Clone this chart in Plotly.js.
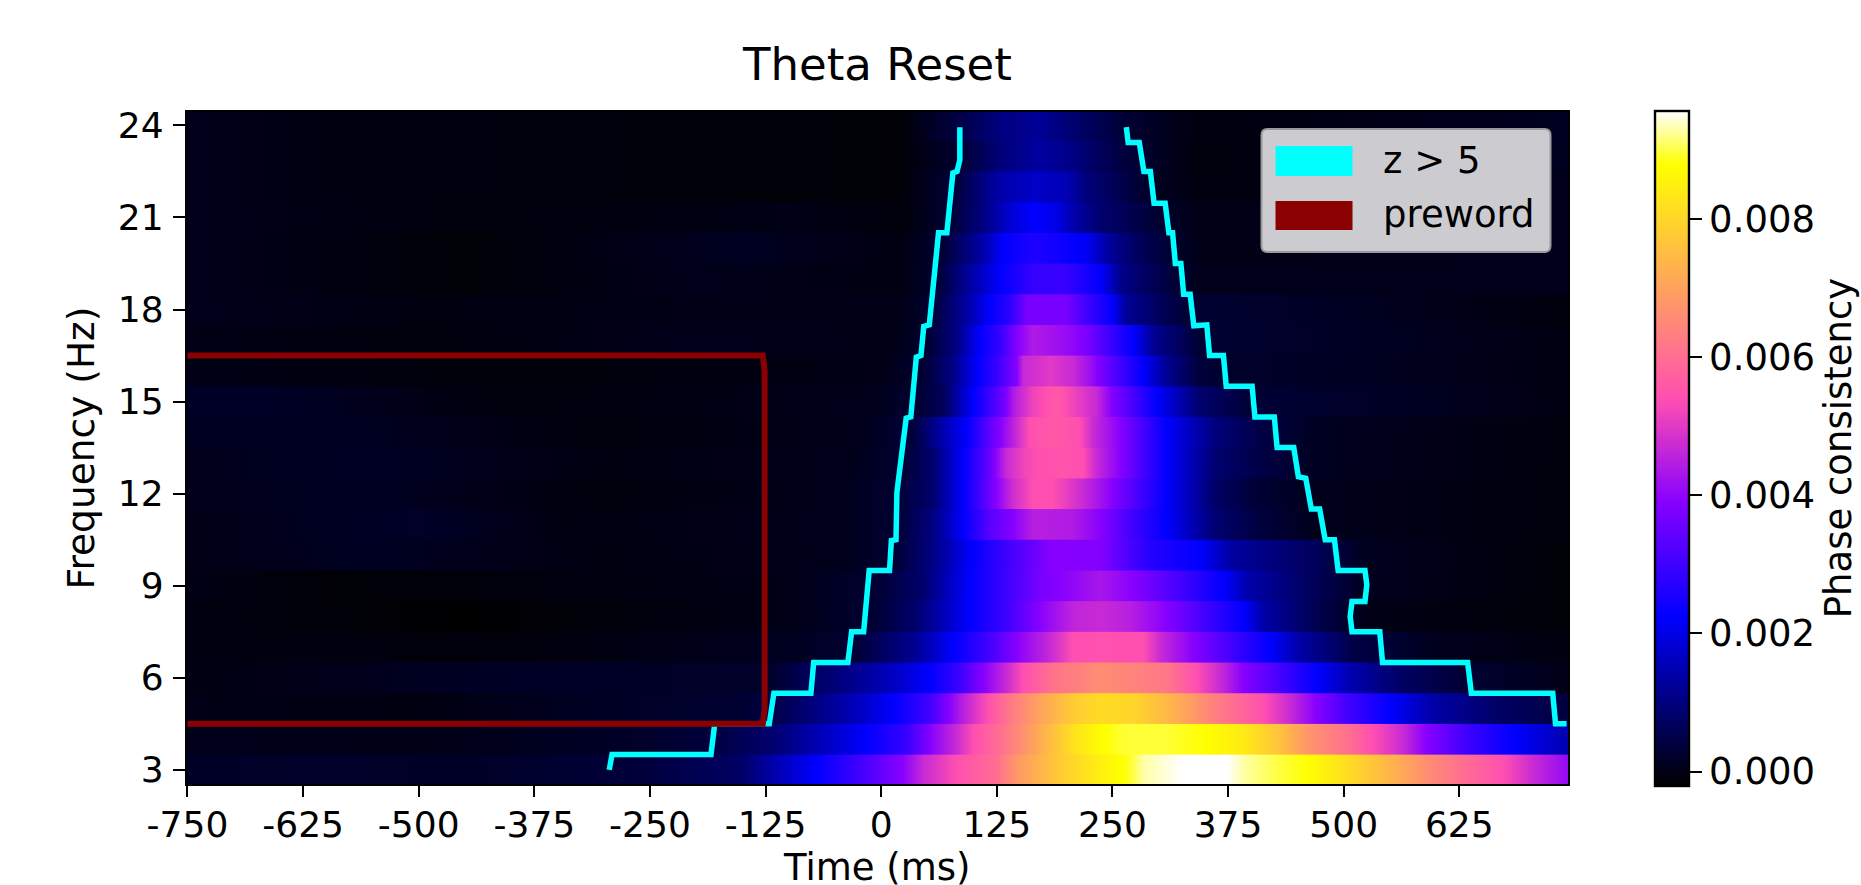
<!DOCTYPE html>
<html>
<head>
<meta charset="utf-8">
<script src="https://cdn.plot.ly/plotly-3.0.1.min.js"></script>
<style>html,body{margin:0;padding:0;background:#fff}</style>
</head>
<body>
<div id="chart" style="width:1861px;height:885px"></div>
<script>
// Each frequency row: time landmarks (ms) and phase consistency (in units of 0.001)
const t3=[-752,-600,-450,-261,-153,-117,-70,-30,23,45,81,124,146,189,236,268,283,326,373,391,427,459,506,553,596,643,672,705,746];
const v3=[0.15,0.2,0.15,0.35,0.75,1.42,2.24,2.9,3.9,4.7,5.4,6.0,6.8,7.7,8.5,8.9,9.3,9.58,9.58,9.3,9.0,8.8,8.1,7.3,6.5,5.8,5.4,4.7,4.0];
const t4=[-752,-500,-261,-189,-117,-63,-16,27,56,81,99,132,164,207,236,261,308,348,391,427,459,506,531,564,589,632,683,746];
const v4=[0.05,0.0,0.18,0.35,0.85,1.6,2.24,2.9,4.0,4.7,5.4,6.1,7.0,8.2,8.75,8.95,8.95,8.8,8.4,7.7,6.8,6.0,5.4,4.7,3.9,3.0,2.24,1.4];
const t5=[-752,-500,-153,-117,-70,-27,13,52,85,114,142,171,207,236,272,315,362,409,438,470,506,550,596,668,746];
const v5=[0.0,-0.05,0.27,0.46,1.03,1.6,2.24,3.0,4.4,5.4,6.3,7.0,7.8,8.1,8.0,7.3,6.3,5.5,4.8,3.9,3.0,2.24,1.4,0.75,0.35];
const t6=[-752,-500,-400,-121,-81,-30,16,52,85,110,135,153,186,236,308,340,366,391,434,470,506,560,632,746];
const v6=[-0.05,0.1,0.15,0.18,0.65,1.13,1.7,2.24,3.0,3.9,4.7,5.4,6.1,6.6,6.2,5.4,4.7,3.9,3.0,2.24,1.5,0.75,0.27,0.0];
const t7=[-752,-400,-100,-30,38,78,114,146,182,207,236,283,301,337,380,420,452,510,596,746];
const v7=[-0.05,-0.1,0.1,0.27,1.23,2.24,3.0,3.9,4.7,5.4,5.45,5.4,4.7,3.9,3.0,2.24,1.4,0.46,0.08,-0.07];
const t8=[-752,-450,-100,-9,38,95,135,171,207,236,268,308,351,391,413,470,524,746];
const v8=[-0.05,-0.2,0.0,0.27,0.85,2.24,3.0,3.9,4.6,4.7,4.5,3.9,3.0,2.24,1.4,0.55,0.0,-0.15];
const t9=[-752,-600,-100,-5,45,95,135,171,236,272,326,369,398,467,524,746];
const v9=[0.0,-0.15,0.0,0.27,0.85,2.24,3.0,3.7,4.3,3.9,3.0,2.24,1.4,0.65,0.08,-0.15];
const t10=[-752,-550,-300,-40,14,58,97,146,182,236,290,344,380,470,520,746];
const v10=[0.0,0.12,-0.05,0.05,0.27,1.1,2.24,3.2,3.9,3.85,2.7,2.24,1.3,0.65,0.1,-0.15];
const t11=[-752,-500,-350,-40,16,56,88,117,142,164,207,236,272,308,362,409,470,746];
const v11=[0.0,0.18,-0.05,0.05,0.27,1.03,2.24,3.3,3.9,4.5,4.4,3.9,3.0,2.24,0.85,0.37,0.05,-0.1];
const t12=[-752,-550,-300,-40,16,56,88,124,142,164,186,200,218,250,308,362,409,470,746];
const v12=[0.05,0.12,-0.1,0.05,0.27,0.85,2.24,3.9,4.8,5.4,5.4,5.1,4.7,3.9,2.24,0.75,0.27,0.05,-0.1];
const t13=[-752,-550,-300,-30,23,56,88,117,135,153,167,193,218,232,258,308,362,409,470,746];
const v13=[0.05,0.15,-0.05,0.05,0.27,0.85,2.24,3.5,4.7,5.2,5.4,5.5,5.4,4.7,3.9,2.24,0.85,0.46,0.1,-0.1];
const t14=[-752,-550,-300,-20,34,63,92,128,146,160,186,214,229,258,308,362,409,470,746];
const v14=[0.1,0.1,-0.1,0.05,0.37,1.33,2.24,3.9,4.7,5.4,5.6,5.4,4.7,3.9,2.24,0.95,0.46,0.1,-0.1];
const t15=[-752,-650,-400,-10,38,67,99,132,142,164,189,207,232,250,297,344,398,746];
const v15=[0.15,0.15,-0.1,0.05,0.27,0.65,2.24,3.6,4.4,5.2,5.6,5.2,4.7,3.85,2.24,0.85,0.3,-0.05];
const t16=[-752,-500,-300,0,45,77,104,124,146,153,182,207,225,250,283,308,344,380,746];
const v16=[0.0,-0.1,-0.1,0.0,0.27,1.03,2.24,2.9,3.85,4.7,5.0,4.7,4.2,3.3,2.24,1.2,0.37,0.2,-0.05];
const t17=[-752,-500,-200,15,50,81,106,128,146,164,200,218,250,272,294,344,746];
const v17=[0.0,-0.1,0.05,0.0,0.27,1.03,2.24,2.9,3.85,4.4,4.1,3.85,2.9,2.24,1.2,0.27,-0.05];
const t18=[-752,-500,-200,20,54,92,117,139,157,200,222,250,265,308,333,746];
const v18=[0.05,-0.05,0.0,0.0,0.27,1.33,2.24,2.8,3.7,3.7,3.0,2.24,1.23,0.55,0.27,-0.1];
const t19=[-752,-450,-200,20,59,103,128,164,200,236,258,290,319,344,746];
const v19=[0.05,-0.15,0.05,-0.05,0.27,1.52,2.24,2.9,2.9,2.24,1.13,0.65,0.27,0.05,0.05];
const t20=[-752,-450,-150,20,65,110,132,164,193,222,247,279,312,344,746];
const v20=[0.05,-0.15,0.12,-0.05,0.27,1.42,2.24,2.6,2.4,2.1,1.23,0.65,0.27,0.0,0.05];
const t21=[-752,-450,-100,25,77,110,139,164,189,207,236,279,308,344,746];
const v21=[0.05,-0.1,0.0,-0.1,0.32,1.03,1.8,2.24,2.0,1.42,0.85,0.46,0.18,0.0,0.05];
const t22=[-752,-600,20,81,128,164,200,222,272,294,344,746];
const v22=[0.05,-0.05,-0.15,0.37,1.42,1.71,1.52,0.95,0.37,0.12,-0.07,0.05];
const t23=[-752,-600,20,85,128,171,200,236,265,308,344,746];
const v23=[0.05,-0.05,-0.15,0.27,0.95,1.33,1.13,0.65,0.37,0.08,-0.1,0.1];
const t24=[-752,-600,20,85,128,171,236,265,344,746];
const v24=[0.05,-0.05,-0.15,0.46,1.02,1.23,0.55,0.27,-0.07,0.1];

const rowTimes=[t3,t4,t5,t6,t7,t8,t9,t10,t11,t12,t13,t14,t15,t16,t17,t18,t19,t20,t21,t22,t23,t24];
const rowValues=[v3,v4,v5,v6,v7,v8,v9,v10,v11,v12,v13,v14,v15,v16,v17,v18,v19,v20,v21,v22,v23,v24];
const frequencies=[3,4,5,6,7,8,9,10,11,12,13,14,15,16,17,18,19,20,21,22,23,24];

// z > 5 contour: left flank, bottom to top, then right flank, top to bottom
const contourLeftT=[-294,-291,-184,-180,-121,-116,-76,-73,-36,-32,-19,-13,9,11,16,17.3,17,27,32,38,43,46,52,62,71,77.5,82,85,85];
const contourLeftF=[3.0,3.5,3.5,4.5,4.5,5.5,5.5,6.5,6.5,7.5,7.5,9.5,9.5,10.47,10.5,11.5,12.05,14.46,14.5,16.45,16.5,17.45,17.5,20.5,20.5,22.45,22.5,22.87,23.94];
const contourRightT=[265,267,279,284,291,295,307,311,315,318,324,327,334,338,352,355,370,373,401,404,425,428,446,451,459,465,474,480,490,494,523,525,523,509,507,509,539,542,634,638,726,729,741];
const contourRightF=[23.94,23.44,23.44,22.5,22.5,21.46,21.46,20.5,20.5,19.5,19.5,18.5,18.5,17.47,17.5,16.5,16.5,15.5,15.5,14.5,14.5,13.5,13.5,12.55,12.5,11.5,11.5,10.5,10.5,9.5,9.5,9.03,8.49,8.49,8.0,7.5,7.5,6.5,6.5,5.5,5.5,4.5,4.5];
// preword window
const prewordT=[-750,-128,-126,-126,-128,-750];
const prewordF=[16.5,16.5,16,5,4.5,4.5];

const timeTicks=[-750,-625,-500,-375,-250,-125,0,125,250,375,500,625];
const freqTicks=[3,6,9,12,15,18,21,24];
const cbTicks=[0,0.002,0.004,0.006,0.008];
const cbLabels=['0.000','0.002','0.004','0.006','0.008'];

const FONT='"DejaVu Sans", sans-serif';
const L=187.4,R=1568.5,T=112,B=784.5;
const px=x=>(x-L)/(R-L), py=y=>(B-y)/(B-T);

const gnuplot2=[
 [0,'rgb(0,0,0)'],[0.25,'rgb(0,0,255)'],[0.42,'rgb(135,0,255)'],
 [0.5725,'rgb(255,78,177)'],[0.92,'rgb(255,255,0)'],[1,'rgb(255,255,255)']];

const traces=frequencies.map((f,i)=>({
  type:'heatmap',
  x:rowTimes[i],
  y:[f-0.5,f,f+0.54],
  z:[rowValues[i].map(v=>v*1e-3),rowValues[i].map(v=>v*1e-3)],
  zsmooth:'best',
  coloraxis:'coloraxis',
  hoverinfo:'skip'
}));
const lineStyle=(c,w)=>({color:c,width:w,shape:'linear'});
traces.push({type:'scatter',mode:'lines',x:contourLeftT,y:contourLeftF,line:lineStyle('#00ffff',5.5),hoverinfo:'skip',showlegend:false});
traces.push({type:'scatter',mode:'lines',x:contourRightT,y:contourRightF,line:lineStyle('#00ffff',5.5),hoverinfo:'skip',showlegend:false});
traces.push({type:'scatter',mode:'lines',x:prewordT,y:prewordF,line:lineStyle('#8b0000',6),hoverinfo:'skip',showlegend:false});

// legend box geometry
const bx0=px(1262),bx1=px(1551),by0=py(252),by1=py(129),rx=6/(R-L),ry=6/(B-T);
const legendPath=`M ${bx0+rx} ${by0} L ${bx1-rx} ${by0} Q ${bx1} ${by0} ${bx1} ${by0+ry} L ${bx1} ${by1-ry} Q ${bx1} ${by1} ${bx1-rx} ${by1} L ${bx0+rx} ${by1} Q ${bx0} ${by1} ${bx0} ${by1-ry} L ${bx0} ${by0+ry} Q ${bx0} ${by0} ${bx0+rx} ${by0} Z`;

const layout={
  width:1861,height:885,autosize:false,
  paper_bgcolor:'#fff',plot_bgcolor:'#000',
  showlegend:false,
  margin:{l:L,r:1861-R,t:T,b:885-B,pad:0},
  font:{family:FONT,size:36,color:'#000'},
  title:{text:'Theta Reset',font:{family:FONT,size:45,color:'#000'},x:0.4715,xref:'container',xanchor:'center',y:1-64/885,yref:'container',yanchor:'middle'},
  xaxis:{range:[-750.5,742.5],tickmode:'array',tickvals:timeTicks,ticktext:timeTicks.map(String),ticks:'outside',ticklen:11,tickwidth:2,tickcolor:'#000',ticklabelstandoff:-3,
    showline:true,linecolor:'#000',linewidth:2.4,mirror:true,showgrid:false,zeroline:false,
    tickfont:{family:FONT,size:36,color:'#000'}},
  yaxis:{range:[2.54,24.435],tickmode:'array',tickvals:freqTicks,ticktext:freqTicks.map(String),ticks:'outside',ticklen:12,tickwidth:2,tickcolor:'#000',ticklabelstandoff:2,
    showline:true,linecolor:'#000',linewidth:2.4,mirror:true,showgrid:false,zeroline:false,
    tickfont:{family:FONT,size:36,color:'#000'},
    title:{text:'Frequency (Hz)',font:{family:FONT,size:37.5,color:'#000'},standoff:12}},
  coloraxis:{cmin:-0.00021,cmax:0.00957,colorscale:gnuplot2,
    colorbar:{thickness:34,thicknessmode:'pixels',len:674.5,lenmode:'pixels',
      x:px(1656),xanchor:'left',xpad:0,y:py(111),yanchor:'top',ypad:0,
      outlinecolor:'#000',outlinewidth:2.4,
      tickmode:'array',tickvals:cbTicks,ticktext:cbLabels,ticks:'outside',ticklen:12,tickwidth:2,tickcolor:'#000',
      tickfont:{family:FONT,size:37,color:'#000'}}},
  shapes:[
    {type:'path',xref:'paper',yref:'paper',path:legendPath,fillcolor:'rgba(204,204,208,1)',line:{color:'#9a9a9e',width:2},layer:'above'},
    {type:'rect',xref:'paper',yref:'paper',x0:px(1276),x1:px(1353),y0:py(176),y1:py(146),fillcolor:'#00ffff',line:{width:0},layer:'above'},
    {type:'rect',xref:'paper',yref:'paper',x0:px(1276),x1:px(1353),y0:py(230),y1:py(201),fillcolor:'#8b0000',line:{width:0},layer:'above'}
  ],
  annotations:[
    {xref:'paper',yref:'paper',x:px(1381),y:py(161),xanchor:'left',yanchor:'middle',text:'z > 5',showarrow:false,font:{family:FONT,size:37,color:'#000'}},
    {xref:'paper',yref:'paper',x:px(1381),y:py(215),xanchor:'left',yanchor:'middle',text:'preword',showarrow:false,font:{family:FONT,size:37,color:'#000'}},
    {xref:'paper',yref:'paper',x:px(877),y:py(868),xanchor:'center',yanchor:'middle',borderpad:0,text:'Time (ms)',showarrow:false,font:{family:FONT,size:37,color:'#000'}},
    {xref:'paper',yref:'paper',x:px(1839),y:py(448),xanchor:'center',yanchor:'middle',textangle:-90,borderpad:0,text:'Phase consistency',showarrow:false,font:{family:FONT,size:37,color:'#000'}}
  ]
};
Plotly.newPlot('chart',traces,layout,{displayModeBar:false,responsive:false});
</script>
</body>
</html>
